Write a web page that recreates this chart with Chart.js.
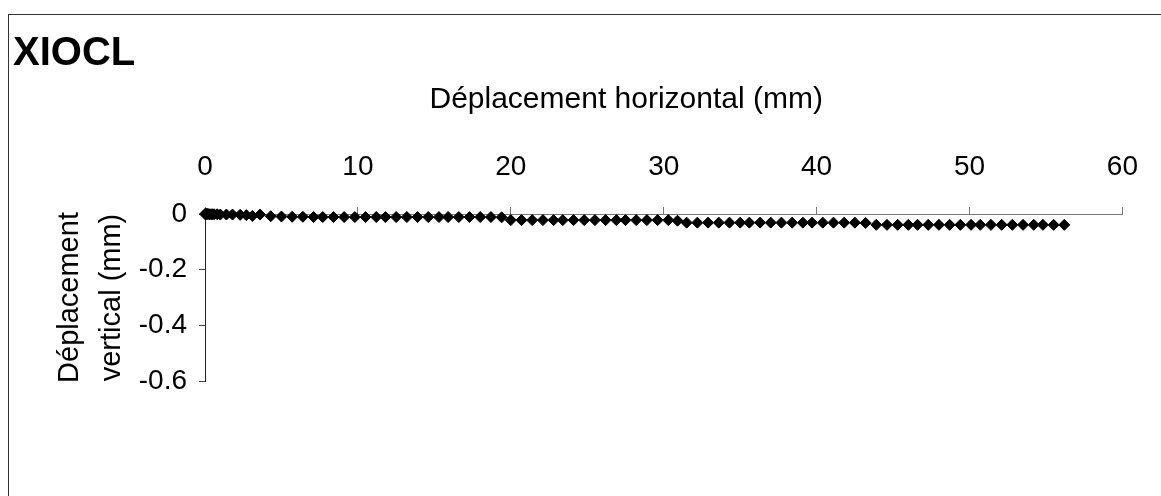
<!DOCTYPE html>
<html>
<head>
<meta charset="utf-8">
<script src="https://cdn.jsdelivr.net/npm/chart.js@4.4.0/dist/chart.umd.min.js"></script>
<style>
  body { margin: 0; overflow: hidden; background: #fff; }
  #frame { position: absolute; left: 8px; top: 14px; width: 1300px; height: 700px; border: 1px solid #333; }
  #wrap { position: absolute; left: 0; top: 0; width: 1161px; height: 496px; }
</style>
</head>
<body>
<div id="frame"></div>
<div id="wrap"><canvas id="chart" width="1161" height="496"></canvas></div>
<script>
// horizontal displacement (mm) and vertical displacement (mm)
const horizontal = [
  0, 0.05, 0.1, 0.15, 0.2, 0.3, 0.4, 0.5, 0.6, 0.8, 1.0, 1.4, 1.8, 2.3, 2.7, 3.1, 3.6,
  4.3, 5.0, 5.7, 6.4, 7.1, 7.7, 8.4, 9.1, 9.8, 10.5, 11.2, 11.8, 12.5, 13.2, 13.9, 14.6,
  15.3, 15.9, 16.6, 17.3, 18.0, 18.7, 19.4,
  20.0, 20.7, 21.4, 22.1, 22.8, 23.4, 24.1, 24.8, 25.5, 26.2, 26.9, 27.5, 28.2, 28.9,
  29.6, 30.3, 30.9,
  31.5, 32.2, 32.9, 33.6, 34.3, 35.0, 35.6, 36.3, 37.0, 37.7, 38.4, 39.1, 39.7, 40.4,
  41.1, 41.8, 42.5, 43.2,
  43.9, 44.6, 45.3, 46.0, 46.6, 47.3, 48.0, 48.7, 49.4, 50.1, 50.7, 51.4, 52.1, 52.8,
  53.5, 54.2, 54.8, 55.5, 56.2
];
const vertical = [
  0, 0, 0, 0, 0, -0.001, -0.001, -0.001, -0.001, -0.001, -0.002, -0.002, -0.002, -0.003, -0.004, -0.007, -0.002,
  -0.008, -0.009, -0.010, -0.010, -0.011, -0.011, -0.011, -0.011, -0.011, -0.011, -0.011, -0.011, -0.011, -0.011, -0.011, -0.011,
  -0.011, -0.011, -0.011, -0.011, -0.011, -0.011, -0.012,
  -0.022, -0.022, -0.022, -0.022, -0.022, -0.022, -0.022, -0.022, -0.022, -0.022, -0.022, -0.022, -0.022, -0.022,
  -0.022, -0.022, -0.024,
  -0.031, -0.031, -0.031, -0.031, -0.031, -0.031, -0.031, -0.031, -0.031, -0.031, -0.031, -0.031, -0.031, -0.031,
  -0.031, -0.031, -0.031, -0.032,
  -0.039, -0.039, -0.039, -0.039, -0.039, -0.039, -0.039, -0.039, -0.039, -0.039, -0.039, -0.039, -0.039, -0.039,
  -0.039, -0.039, -0.039, -0.039, -0.039
];
const xTicks = [0, 10, 20, 30, 40, 50, 60];
const yTicks = [0, -0.2, -0.4, -0.6];

const FONT = "'Liberation Sans', Arial, sans-serif";
const points = horizontal.map((x, i) => ({ x: x, y: vertical[i] }));

new Chart(document.getElementById('chart'), {
  type: 'scatter',
  data: {
    datasets: [{
      data: points,
      pointStyle: 'rectRot',
      pointRadius: 5.5,
      pointBorderWidth: 1,
      backgroundColor: '#000',
      borderColor: '#000',
      clip: false
    }]
  },
  options: {
    responsive: false,
    animation: false,
    devicePixelRatio: 1,
    layout: { padding: { left: 13, right: 33, top: 0, bottom: 115 } },
    plugins: {
      legend: { display: false },
      tooltip: { enabled: false },
      title: {
        display: true,
        text: 'XIOCL',
        align: 'start',
        color: '#000',
        font: { family: FONT, size: 40, weight: 'bold', lineHeight: 1.2 },
        padding: { top: 30, bottom: 0 }
      }
    },
    scales: {
      x: {
        type: 'linear',
        position: 'top',
        min: xTicks[0],
        max: xTicks[xTicks.length - 1],
        afterBuildTicks: s => { s.ticks = xTicks.map(v => ({ value: v })); },
        afterFit: s => { s.height = 136; },
        ticks: { color: '#000', font: { family: FONT, size: 28 }, padding: 23, maxRotation: 0 },
        grid: { drawOnChartArea: false, drawTicks: true, tickLength: 7, color: '#777' },
        border: { color: '#777', width: 1 },
        title: {
          display: true,
          // trailing spaces shift the centred title left, as in the original
          text: 'Déplacement horizontal (mm)\u00a0\u00a0\u00a0\u00a0\u00a0\u00a0\u00a0\u00a0\u00a0',
          color: '#000',
          font: { family: FONT, size: 30, lineHeight: 1.2 },
          padding: { top: 4, bottom: 0 }
        }
      },
      y: {
        type: 'linear',
        position: 'left',
        min: yTicks[yTicks.length - 1],
        max: yTicks[0],
        afterBuildTicks: s => { s.ticks = yTicks.map(v => ({ value: v })); },
        afterFit: s => { s.width = 192; },
        ticks: { color: '#000', font: { family: FONT, size: 28 }, padding: 12 },
        grid: { drawOnChartArea: false, drawTicks: true, tickLength: 6, color: '#444' },
        border: { color: '#222', width: 1 },
        title: {
          display: true,
          text: ['Déplacement', 'vertical (mm)'],
          color: '#000',
          font: { family: FONT, size: 29, lineHeight: 1.45 },
          padding: { top: 36, bottom: 0 }
        }
      }
    }
  }
});
</script>
</body>
</html>
